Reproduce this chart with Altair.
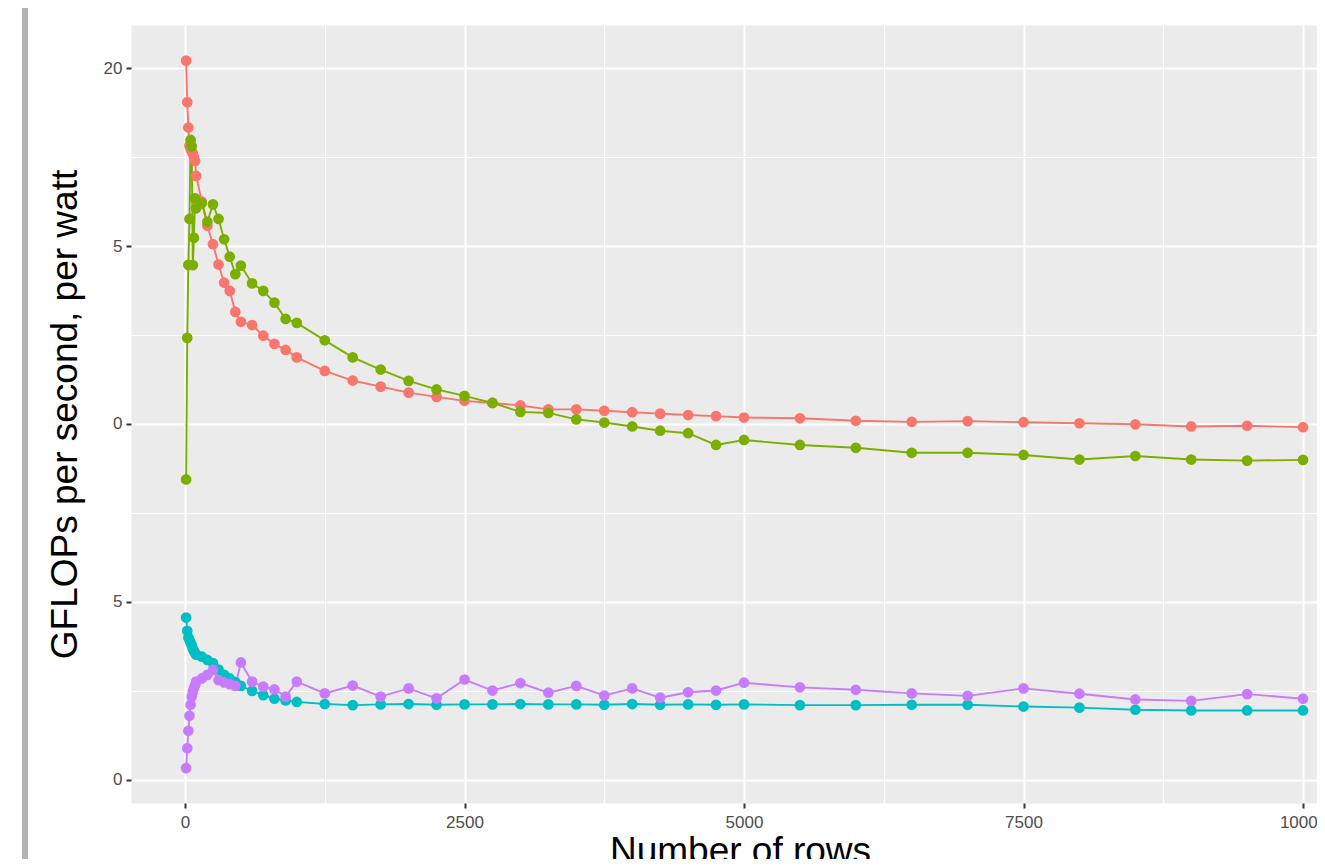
import altair as alt
import pandas as pd

# ---- data ----
rows = [10, 20, 30, 40, 50, 60, 70, 80, 90, 100, 150, 200, 250, 300, 350, 400, 450, 500,
        600, 700, 800, 900, 1000, 1250, 1500, 1750, 2000, 2250, 2500, 2750, 3000, 3250,
        3500, 3750, 4000, 4250, 4500, 4750, 5000, 5500, 6000, 6500, 7000, 7500, 8000,
        8500, 9000, 9500, 10000]

series_a = [20.21, 19.04, 18.33, 17.82, 17.72, 17.66, 17.60, 17.50, 17.39, 16.97, 16.25,
            15.57, 15.05, 14.48, 13.97, 13.74, 13.15, 12.87, 12.78, 12.48, 12.25, 12.08,
            11.87, 11.49, 11.22, 11.05, 10.88, 10.76, 10.65, 10.59, 10.52, 10.41, 10.41,
            10.37, 10.33, 10.29, 10.25, 10.22, 10.18, 10.16, 10.09, 10.06, 10.08, 10.05,
            10.02, 9.99, 9.93, 9.95, 9.91]

series_b = [8.44, 12.42, 14.47, 15.76, 17.98, 17.80, 14.46, 15.23, 16.34, 16.06, 16.20,
            15.68, 16.17, 15.76, 15.19, 14.70, 14.21, 14.45, 13.95, 13.74, 13.41, 12.95,
            12.84, 12.35, 11.87, 11.53, 11.21, 10.97, 10.79, 10.59, 10.34, 10.31, 10.13,
            10.04, 9.93, 9.81, 9.74, 9.41, 9.55, 9.41, 9.33, 9.19, 9.19, 9.13, 9.00, 9.10,
            9.00, 8.97, 8.99]

series_c = [4.56, 4.19, 4.00, 3.93, 3.85, 3.78, 3.68, 3.62, 3.56, 3.52, 3.46, 3.37, 3.28,
            3.10, 2.95, 2.85, 2.75, 2.64, 2.50, 2.38, 2.28, 2.23, 2.19, 2.13, 2.10, 2.12,
            2.13, 2.11, 2.12, 2.12, 2.13, 2.12, 2.12, 2.11, 2.13, 2.11, 2.12, 2.11, 2.12,
            2.10, 2.10, 2.11, 2.11, 2.06, 2.03, 1.97, 1.95, 1.95, 1.95]

series_d = [0.33, 0.89, 1.38, 1.80, 2.11, 2.34, 2.48, 2.58, 2.66, 2.76, 2.85, 2.95, 3.09,
            2.80, 2.74, 2.69, 2.64, 3.30, 2.76, 2.62, 2.54, 2.34, 2.76, 2.43, 2.65, 2.34,
            2.57, 2.29, 2.82, 2.51, 2.72, 2.45, 2.64, 2.37, 2.57, 2.31, 2.46, 2.51, 2.73,
            2.60, 2.53, 2.43, 2.36, 2.57, 2.42, 2.26, 2.22, 2.41, 2.28]

series_names = ["A", "B", "C", "D"]
series_colors = ["#F8766D", "#7CAE00", "#00BFC4", "#C77CFF"]

x_grid = [0, 1250, 2500, 3750, 5000, 6250, 7500, 8750, 10000]
y_grid = [0, 2.5, 5, 7.5, 10, 12.5, 15, 17.5, 20]

x_title = "Number of rows"
y_title = "GFLOPs per second, per watt"

# ---- build long table ----
frames = []
for name, vals in zip(series_names, [series_a, series_b, series_c, series_d]):
    frames.append(pd.DataFrame({"rows": rows, "value": vals, "series": name}))
df = pd.concat(frames, ignore_index=True)
df["order"] = range(len(df))

FONT = "Liberation Sans"

x_axis = alt.Axis(
    values=x_grid,
    title=x_title,
    labelExpr="datum.value % 2500 === 0 ? toString(datum.value) : ''",
    labelOverlap=False,
    labelFlush=False,
    grid=True,
    gridColor="white",
    gridWidth={"condition": {"test": "datum.value % 2500 === 0", "value": 2}, "value": 1},
    tickOpacity={"condition": {"test": "datum.value % 2500 === 0", "value": 1}, "value": 0},
    ticks=True,
    tickSize=5,
    tickWidth=2,
    tickColor="#333333",
    labelPadding=6,
    labelFontSize=17,
    labelColor="#4D4D4D",
    titleFontSize=37,
    titleColor="#000000",
    titleFontWeight="normal",
    titlePadding=3,
    titleX=609,
    titleAlign="center",
    domain=False,
)

y_axis = alt.Axis(
    values=y_grid,
    title=y_title,
    labelExpr="datum.value === 20 ? '20' : (datum.value % 5 === 0 ? toString(datum.value % 10) : '')",
    labelOverlap=False,
    labelFlush=False,
    grid=True,
    gridColor="white",
    gridWidth={"condition": {"test": "datum.value % 5 === 0", "value": 2}, "value": 1},
    tickOpacity={"condition": {"test": "datum.value % 5 === 0", "value": 1}, "value": 0},
    ticks=True,
    tickSize=5,
    tickWidth=2,
    tickColor="#333333",
    labelPadding=4,
    labelFontSize=17,
    labelColor="#4D4D4D",
    titleFontSize=37,
    titleColor="#000000",
    titleFontWeight="normal",
    titlePadding=19,
    domain=False,
)

x_enc = alt.X("rows:Q", scale=alt.Scale(domain=[-483, 10125], nice=False, zero=False), axis=x_axis)
y_enc = alt.Y("value:Q", scale=alt.Scale(domain=[-0.65, 21.21], nice=False, zero=False), axis=y_axis)
color_enc = alt.Color("series:N", scale=alt.Scale(domain=series_names, range=series_colors), legend=None)

base = alt.Chart(df)
lines = base.mark_line(strokeWidth=1.9).encode(
    x=x_enc, y=y_enc, color=color_enc, detail="series:N", order="order:Q"
)
points = base.mark_circle(size=115, opacity=1).encode(
    x=x_enc, y=y_enc, color=color_enc, order="order:Q"
)

# page-edge decoration seen in the reference
edge = alt.Chart(pd.DataFrame({"k": [0]})).mark_rule(color="#B3B3B3", strokeWidth=6).encode(
    x=alt.value(-106), y=alt.value(-25), y2=alt.value(860)
)

chart = alt.layer(edge, lines, points).properties(
    width=1186,
    height=778,
    autosize=alt.AutoSizeParams(type="none"),
    padding={"left": 123, "top": 17, "right": 0, "bottom": 56},
    background="white",
).configure_view(
    fill="#EBEBEB", stroke="transparent"
).configure_axis(
    labelFont=FONT, titleFont=FONT
)

chart.save("out.html", embed_options={"renderer": "svg", "actions": False})
